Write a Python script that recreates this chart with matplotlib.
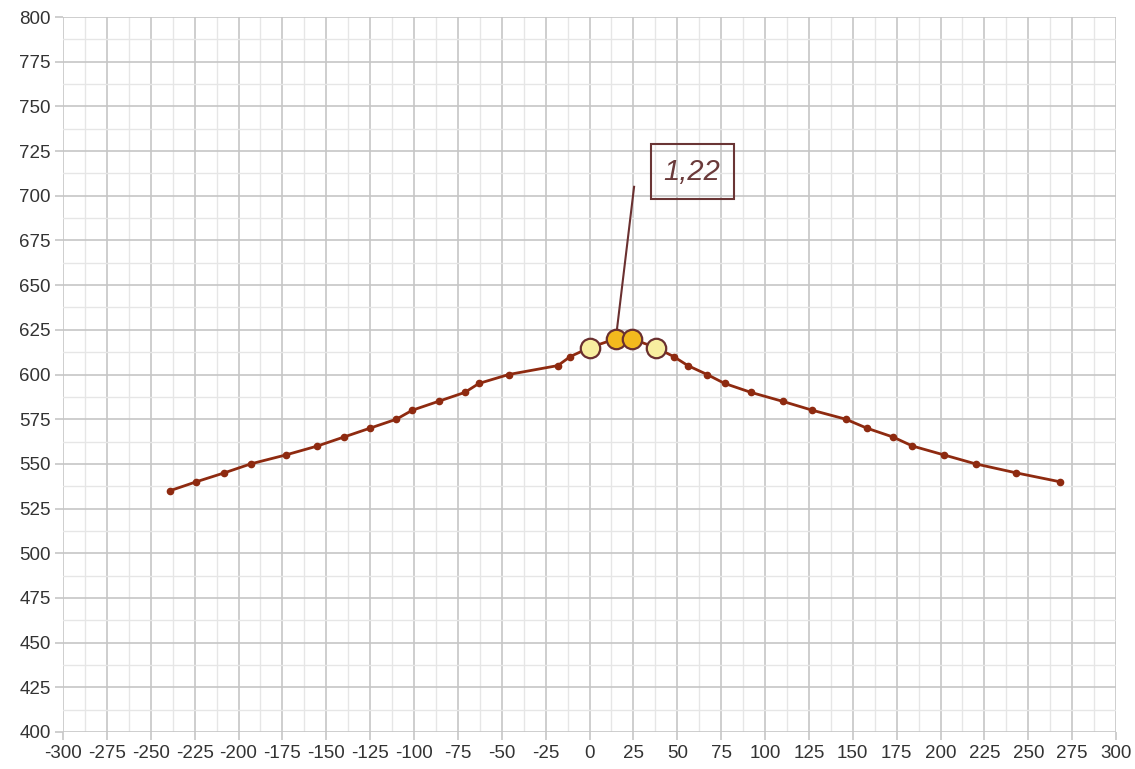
import numpy as np
import matplotlib.pyplot as plt
from matplotlib.ticker import MultipleLocator

plt.rcParams['font.family'] = ['Liberation Sans', 'DejaVu Sans']
plt.rcParams['axes.unicode_minus'] = False

# profile points
xs = [-239, -224, -208, -193, -173, -155, -140, -125, -110, -101, -86, -71, -63, -46,
      -18, -11, 0, 15, 24, 38, 48, 56, 67, 77, 92, 110, 127, 146, 158, 173, 184,
      202, 220, 243, 268]
ys = [535, 540, 545, 550, 555, 560, 565, 570, 575, 580, 585, 590, 595, 600,
      605, 610, 615, 620, 620, 615, 610, 605, 600, 595, 590, 585, 580, 575, 570, 565, 560,
      555, 550, 545, 540]

# highlighted points near the top
hl_x = [0, 15, 24, 38]
hl_y = [615, 620, 620, 615]
hl_col = ['#f8eea0', '#f3b91e', '#f3b91e', '#f8eea0']

label = '1,22'
label_pos = (58.5, 713.5)
leader_end = (25.4, 705)

fig = plt.figure(figsize=(11.35, 7.69), dpi=100)
ax = fig.add_axes([63/1135, 37/769, (1116-63)/1135, (732-17)/769])

ax.plot(xs, ys, color='#8e2a10', lw=2, marker='o', ms=4.5, mfc='#8e2a10', mec='#8e2a10', zorder=3)

# leader line from the top point to the label box
ax.plot([hl_x[1], leader_end[0]], [hl_y[1], leader_end[1]], color='#6a3030', lw=1.5, zorder=4)

for x, y, c in zip(hl_x, hl_y, hl_col):
    ax.plot(x, y, 'o', ms=14, mfc=c, mec='#6a3030', mew=1.6, zorder=5)

ax.text(label_pos[0], label_pos[1], label, fontsize=21, style='italic', color='#6a3a3a',
        ha='center', va='center', zorder=6,
        bbox=dict(boxstyle='square,pad=0.45', fc='none', ec='#6a3535', lw=1.5))

ax.set_xlim(-300, 300)
ax.set_ylim(400, 800)
ax.xaxis.set_major_locator(MultipleLocator(25))
ax.yaxis.set_major_locator(MultipleLocator(25))
ax.xaxis.set_minor_locator(MultipleLocator(12.5))
ax.yaxis.set_minor_locator(MultipleLocator(12.5))
ax.grid(True, which='major', color='#c6c6c6', lw=1.2, zorder=0)
ax.grid(True, which='minor', color='#e6e6e6', lw=1.0, zorder=0)
ax.set_axisbelow(True)
for s in ax.spines.values():
    s.set_visible(False)
ax.tick_params(which='major', length=6, width=1.2, color='#c6c6c6', labelsize=13.5,
               labelcolor='#333333', pad=3)
ax.tick_params(which='minor', length=0)

fig.savefig('out.png', dpi=100)
